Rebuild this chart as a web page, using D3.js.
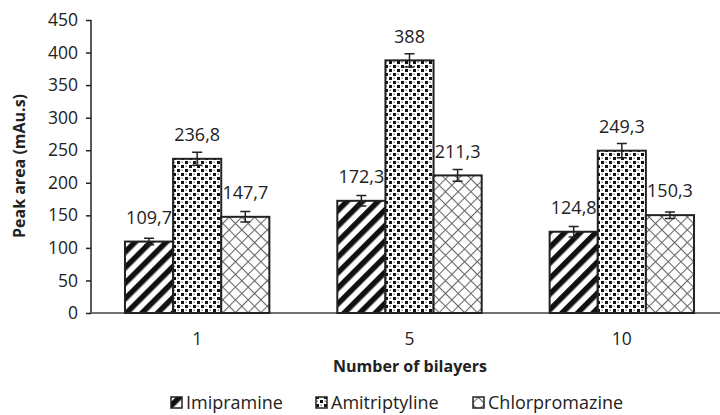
<!DOCTYPE html>
<html>
<head>
<meta charset="utf-8">
<script src="https://cdn.jsdelivr.net/npm/d3@7"></script>
<style>
  body { margin: 0; background: #fff; }
  svg text { font-family: "Open Sans", sans-serif; fill: #222; }
</style>
</head>
<body>
<svg width="720" height="415"></svg>
<script>
const categories = ["1", "5", "10"]
const seriesNames = ["Imipramine", "Amitriptyline", "Chlorpromazine"]
const imipramine = [109.7, 172.3, 124.8]
const amitriptyline = [236.8, 388, 249.3]
const chlorpromazine = [147.7, 211.3, 150.3]
const imipramineErr = [5, 8, 8]
const amitriptylineErr = [10, 10, 11]
const chlorpromazineErr = [8, 9, 5]
const yTicks = [0, 50, 100, 150, 200, 250, 300, 350, 400, 450]

const series = [
  { name: seriesNames[0], values: imipramine, err: imipramineErr, fill: "url(#stripes)" },
  { name: seriesNames[1], values: amitriptyline, err: amitriptylineErr, fill: "url(#dots)" },
  { name: seriesNames[2], values: chlorpromazine, err: chlorpromazineErr, fill: "url(#cross)" }
]

const svg = d3.select("svg")
const defs = svg.append("defs")

// diagonal stripes
const stripes = defs.append("pattern")
  .attr("id", "stripes")
  .attr("patternUnits", "userSpaceOnUse")
  .attr("width", 11).attr("height", 11)
  .attr("patternTransform", "rotate(45)")
stripes.append("rect").attr("width", 11).attr("height", 11).attr("fill", "#fff")
stripes.append("rect").attr("width", 5.5).attr("height", 11).attr("fill", "#111")

// confetti dots
const dots = defs.append("pattern")
  .attr("id", "dots")
  .attr("patternUnits", "userSpaceOnUse")
  .attr("width", 8).attr("height", 8)
dots.append("rect").attr("width", 8).attr("height", 8).attr("fill", "#fff")
dots.append("rect").attr("x", 1).attr("y", 1).attr("width", 3).attr("height", 3).attr("fill", "#111")
dots.append("rect").attr("x", 5).attr("y", 5).attr("width", 3).attr("height", 3).attr("fill", "#111")
dots.append("rect").attr("x", 5.5).attr("y", 1.5).attr("width", 1.5).attr("height", 1.5).attr("fill", "#888")
dots.append("rect").attr("x", 1.5).attr("y", 5.5).attr("width", 1.5).attr("height", 1.5).attr("fill", "#888")

// diamond crosshatch
const cross = defs.append("pattern")
  .attr("id", "cross")
  .attr("patternUnits", "userSpaceOnUse")
  .attr("width", 9).attr("height", 9)
  .attr("patternTransform", "rotate(45)")
cross.append("rect").attr("width", 9).attr("height", 9).attr("fill", "#fff")
cross.append("line").attr("x1", 0).attr("y1", 0.5).attr("x2", 9).attr("y2", 0.5)
  .attr("stroke", "#666").attr("stroke-width", 1.1)
cross.append("line").attr("x1", 0.5).attr("y1", 0).attr("x2", 0.5).attr("y2", 9)
  .attr("stroke", "#666").attr("stroke-width", 1.1)

const x = d3.scaleBand()
  .domain(categories)
  .range([91, 728])
  .paddingInner(0.32)
  .paddingOuter(0.16)

const xInner = d3.scaleBand()
  .domain(seriesNames)
  .range([0, x.bandwidth()])

const y = d3.scaleLinear()
  .domain([0, 450])
  .range([313, 20])

// y axis
const yAxis = svg.append("g")
  .attr("transform", "translate(91,0)")
  .call(d3.axisLeft(y).tickValues(yTicks).tickSize(5).tickPadding(8))
yAxis.selectAll("path, line").attr("stroke", "#222").attr("stroke-width", 1.5)
yAxis.selectAll("text").style("font-size", "17.5px").attr("fill", "#222")
yAxis.select(".domain").attr("d", "M0,20V313")

// x axis line
svg.append("line")
  .attr("x1", 91).attr("x2", 720)
  .attr("y1", y(0)).attr("y2", y(0))
  .attr("stroke", "#444").attr("stroke-width", 1.5)

// category labels
svg.selectAll("text.cat")
  .data(categories)
  .enter()
  .append("text")
  .attr("class", "cat")
  .attr("x", d => x(d) + x.bandwidth() / 2)
  .attr("y", 339)
  .attr("dy", "0.35em")
  .attr("text-anchor", "middle")
  .style("font-size", "17.5px")
  .text(d => d)

const groups = svg.selectAll("g.series")
  .data(series)
  .enter()
  .append("g")
  .attr("class", "series")

groups.each(function(s) {
  const g = d3.select(this)
  const rows = categories.map((c, i) => ({ c: c, v: s.values[i], e: s.err[i] }))
  const bx = d => x(d.c) + xInner(s.name)
  const w = xInner.bandwidth()

  g.selectAll("rect")
    .data(rows)
    .enter()
    .append("rect")
    .attr("x", bx)
    .attr("y", d => y(d.v))
    .attr("width", w)
    .attr("height", d => y(0) - y(d.v))
    .attr("fill", s.fill)
    .attr("stroke", "#222")
    .attr("stroke-width", 2)

  g.selectAll("path.err")
    .data(rows)
    .enter()
    .append("path")
    .attr("class", "err")
    .attr("d", d => {
      const cx = bx(d) + w / 2
      const t = y(d.v + d.e), b = y(d.v - d.e)
      return `M${cx - 5},${t}H${cx + 5}M${cx},${t}V${b}M${cx - 5},${b}H${cx + 5}`
    })
    .attr("fill", "none")
    .attr("stroke", "#222")
    .attr("stroke-width", 1.5)

  g.selectAll("text.val")
    .data(rows)
    .enter()
    .append("text")
    .attr("class", "val")
    .attr("x", d => bx(d) + w / 2)
    .attr("y", d => y(d.v) - 24)
    .attr("dy", "0.35em")
    .attr("text-anchor", "middle")
    .style("font-size", "18px")
    .text(d => String(d.v).replace(".", ","))
})

// axis titles
svg.append("text")
  .attr("transform", "translate(19,166) rotate(-90)")
  .attr("text-anchor", "middle")
  .attr("dy", "0.35em")
  .style("font-size", "16px")
  .style("font-weight", "bold")
  .text("Peak area (mAu.s)")

svg.append("text")
  .attr("x", 410)
  .attr("y", 366)
  .attr("dy", "0.35em")
  .attr("text-anchor", "middle")
  .style("font-size", "16px")
  .style("font-weight", "bold")
  .text("Number of bilayers")

// legend
const legendX = [170, 315, 472]
const legend = svg.selectAll("g.legend")
  .data(series)
  .enter()
  .append("g")
  .attr("class", "legend")
  .attr("transform", (d, i) => `translate(${legendX[i]}, 403)`)

legend.append("rect")
  .attr("x", 1).attr("y", -6)
  .attr("width", 11).attr("height", 11)
  .attr("fill", d => d.fill)
  .attr("stroke", "#222")
  .attr("stroke-width", 1.5)

legend.append("text")
  .attr("x", 16)
  .attr("dy", "0.35em")
  .style("font-size", "18px")
  .text(d => d.name)
</script>
</body>
</html>
